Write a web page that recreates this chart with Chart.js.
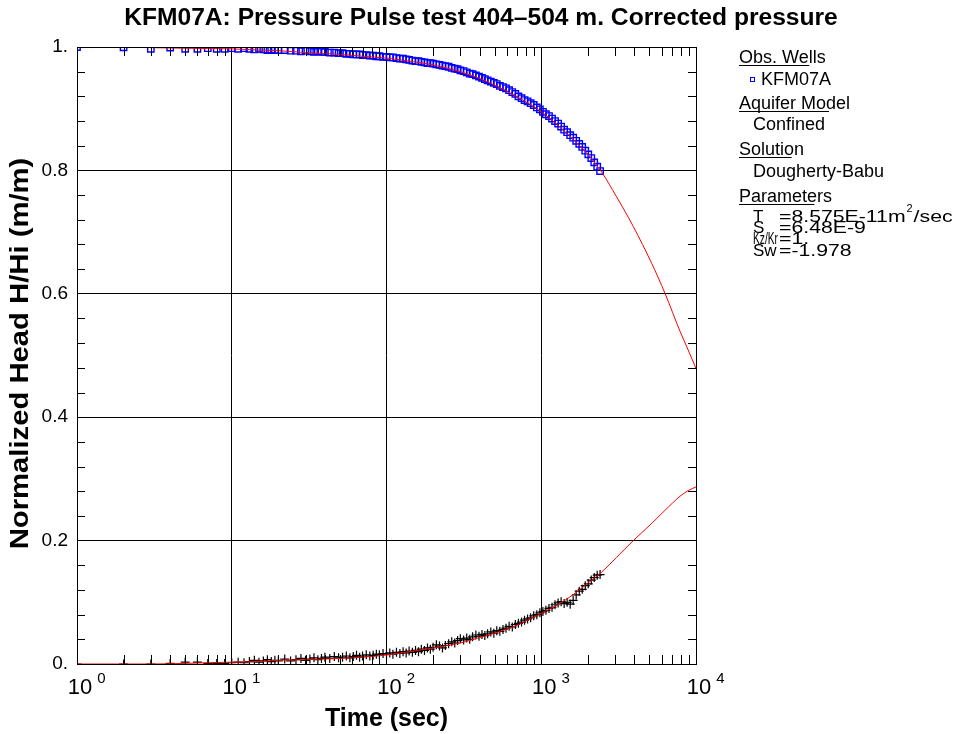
<!DOCTYPE html>
<html>
<head>
<meta charset="utf-8">
<script src="https://cdn.jsdelivr.net/npm/chart.js@4.4.1/dist/chart.umd.min.js"></script>
<style>
  body { margin: 0; background: #fff; }
  canvas { display: block; }
</style>
</head>
<body>
<canvas id="chart" width="961" height="734"></canvas>
<script>
// observed times (sec)
const obsTimes = [
  1, 2, 3, 4, 5, 6, 7, 8, 9,
  10, 11, 12, 13, 14, 15, 16, 17, 18, 19, 20,
  22, 24, 26, 28, 30, 32, 34, 36, 38, 40,
  43, 46, 49, 52, 55, 58, 61, 64, 67, 70,
  74, 78, 82, 86, 90, 95, 100,
  105, 110, 116, 122, 128, 134, 140,
  147, 154, 161, 168, 176, 184, 192, 200,
  210, 220, 230, 240, 252, 264, 276, 288, 300,
  315, 330, 345, 360, 378, 396, 414, 432, 450,
  472, 494, 516, 540, 566, 592, 620, 650, 680,
  712, 746, 780, 816, 854, 894, 936, 980,
  1025, 1072, 1122, 1174, 1228, 1285, 1344,
  1406, 1470, 1538, 1608, 1682, 1760,
  1840, 1925, 2013, 2105, 2200, 2300, 2400
];
// KFM07A, normalized head (upper branch)
const obsUpper = [
  1.000, 0.9995, 0.997, 0.999, 0.997, 0.997, 0.998, 0.997, 0.997,
  0.998, 0.997, 0.998, 0.997, 0.996, 0.997, 0.996, 0.995, 0.996, 0.995, 0.995,
  0.995, 0.994, 0.994, 0.993, 0.994, 0.993, 0.992, 0.993, 0.992, 0.992,
  0.991, 0.991, 0.990, 0.990, 0.989, 0.989, 0.988, 0.988, 0.988, 0.987,
  0.987, 0.986, 0.986, 0.985, 0.985, 0.984, 0.984,
  0.983, 0.983, 0.982, 0.981, 0.981, 0.980, 0.979,
  0.978, 0.977, 0.977, 0.976, 0.975, 0.974, 0.974, 0.973,
  0.972, 0.971, 0.970, 0.969, 0.968, 0.966, 0.965, 0.964, 0.962,
  0.961, 0.959, 0.957, 0.956, 0.954, 0.952, 0.950, 0.948, 0.946,
  0.944, 0.942, 0.940, 0.937, 0.935, 0.933, 0.930, 0.927, 0.924,
  0.920, 0.917, 0.914, 0.912, 0.909, 0.906, 0.902, 0.899,
  0.895, 0.891, 0.888, 0.884, 0.880, 0.876, 0.871,
  0.866, 0.862, 0.857, 0.853, 0.848, 0.843,
  0.838, 0.832, 0.826, 0.820, 0.813, 0.806, 0.799
];
// lower branch (crosses)
const obsLower = [
  0.000, 0.000, 0.000, 0.001, 0.003, 0.003, 0.001, 0.001, 0.001,
  0.002, 0.003, 0.002, 0.004, 0.006, 0.003, 0.005, 0.007, 0.004, 0.006, 0.005,
  0.008, 0.005, 0.007, 0.009, 0.006, 0.008, 0.010, 0.007, 0.009, 0.011,
  0.009, 0.012, 0.010, 0.011, 0.013, 0.010, 0.012, 0.014, 0.011, 0.013,
  0.015, 0.013, 0.014, 0.016, 0.015, 0.017, 0.016,
  0.018, 0.016, 0.019, 0.017, 0.020, 0.018, 0.021,
  0.019, 0.022, 0.020, 0.024, 0.022, 0.026, 0.024, 0.027,
  0.031, 0.029, 0.026, 0.030, 0.033, 0.036, 0.034, 0.038, 0.041,
  0.039, 0.042, 0.040, 0.044, 0.047, 0.045, 0.048, 0.046, 0.049,
  0.052, 0.050, 0.054, 0.053, 0.056, 0.058, 0.061, 0.060, 0.064,
  0.066, 0.068, 0.071, 0.073, 0.075, 0.078, 0.080, 0.083,
  0.085, 0.087, 0.090, 0.092, 0.096, 0.099, 0.101,
  0.098, 0.100, 0.097, 0.103, 0.112, 0.118,
  0.121, 0.127, 0.130, 0.136, 0.140, 0.144, 0.145
];

// Dougherty-Babu fitted curves
const modelTimes = [1, 2, 3, 5, 7, 10, 15, 20, 30, 50, 70, 100, 150, 200, 300, 400, 500, 700,
  1000, 1300, 1600, 2000, 2460, 3070, 3935, 5180, 6300, 7890, 8900, 10000];
const modelUpper = [1.000, 0.9995, 0.999, 0.998, 0.9975, 0.997, 0.995, 0.994, 0.991, 0.988, 0.985,
  0.982, 0.976, 0.971, 0.960, 0.949, 0.938, 0.919, 0.895, 0.872, 0.851, 0.826, 0.797, 0.757,
  0.709, 0.649, 0.601, 0.539, 0.509, 0.479];
const modelLower = [0.000, 0.000, 0.000, 0.001, 0.002, 0.003, 0.004, 0.006, 0.007, 0.009, 0.011,
  0.0146, 0.021, 0.026, 0.034, 0.043, 0.050, 0.063, 0.082, 0.097, 0.112, 0.131, 0.149, 0.173,
  0.200, 0.228, 0.249, 0.272, 0.281, 0.287];

const decadeTicks = [1, 10, 100, 1000, 10000];
const headTicks = [0, 0.2, 0.4, 0.6, 0.8, 1];

const FONT = '"Liberation Sans", Arial, sans-serif';

function pairs(xs, ys) {
  return xs.map((x, i) => ({ x: x, y: ys[i] }));
}

// frame, inward minor ticks, x tick labels, titles and the side panel
const decorations = {
  id: 'decorations',
  afterDraw(chart) {
    const { ctx, chartArea: a, scales: { x, y } } = chart;
    ctx.save();
    ctx.strokeStyle = '#000';
    ctx.lineWidth = 1;
    ctx.beginPath();
    for (let d = 1; d < 10000; d *= 10) {
      for (let m = 2; m <= 9; m++) {
        const px = Math.round(x.getPixelForValue(d * m)) + 0.5;
        ctx.moveTo(px, a.top); ctx.lineTo(px, a.top + 9);
        ctx.moveTo(px, a.bottom); ctx.lineTo(px, a.bottom - 9);
      }
    }
    for (let i = 1; i < 25; i++) {
      if (i % 5 === 0) continue;
      const py = Math.round(y.getPixelForValue(i * 0.04)) + 0.5;
      ctx.moveTo(a.left, py); ctx.lineTo(a.left + 8, py);
      ctx.moveTo(a.right, py); ctx.lineTo(a.right - 8, py);
    }
    ctx.stroke();
    ctx.strokeRect(a.left + 0.5, a.top + 0.5, a.right - a.left, a.bottom - a.top);

    ctx.fillStyle = '#000';
    // x tick labels 10^n
    decadeTicks.forEach((v, n) => {
      const px = x.getPixelForValue(v);
      ctx.font = '22px ' + FONT;
      ctx.textAlign = 'center';
      ctx.textBaseline = 'alphabetic';
      ctx.fillText('10', px + 3, 694);
      const w = ctx.measureText('10').width;
      ctx.font = '15px ' + FONT;
      ctx.textAlign = 'left';
      ctx.fillText(String(n), px + 3 + w / 2 + 5, 683);
    });

    // titles
    ctx.font = 'bold 24.6px ' + FONT;
    ctx.textAlign = 'center';
    ctx.textBaseline = 'middle';
    ctx.fillText('KFM07A: Pressure Pulse test 404\u2013504 m. Corrected pressure', 481, 18);
    ctx.font = 'bold 25px ' + FONT;
    ctx.fillText('Time (sec)', (a.left + a.right) / 2, 719);
    ctx.save();
    ctx.translate(21, (a.top + a.bottom) / 2 - 2);
    ctx.rotate(-Math.PI / 2);
    ctx.scale(1.17, 1);
    ctx.fillText('Normalized Head H/Hi (m/m)', 0, 0);
    ctx.restore();

    // side panel
    ctx.textAlign = 'left';
    ctx.textBaseline = 'alphabetic';
    ctx.font = '18px ' + FONT;
    const heads = [['Obs. Wells', 63], ['Aquifer Model', 109], ['Solution', 155], ['Parameters', 202]];
    heads.forEach(([t, by]) => {
      ctx.fillText(t, 739, by);
      const w = ctx.measureText(t).width * 0.81;
      ctx.fillRect(739, by + 2, w, 1);
    });
    ctx.fillText('KFM07A', 761, 85);
    ctx.fillText('Confined', 753, 130);
    ctx.fillText('Dougherty-Babu', 753, 177);
    ctx.strokeStyle = '#0000ff';
    ctx.strokeRect(750.5, 77.5, 4, 4);

    // parameter rows
    const params = [['T', '=8.575E-11m', 222], ['S', '=6.48E-9', 233], ['Kz/Kr', '=1.', 244], ['Sw', '=-1.978', 256]];
    ctx.font = '17px ' + FONT;
    const sx = 1.25;
    params.forEach(([k, v, by]) => {
      ctx.fillText(k, 753, by, 25);
      ctx.save();
      ctx.translate(779, by);
      ctx.scale(sx, 1);
      ctx.fillText(v, 0, 0);
      ctx.restore();
    });
    const tw = ctx.measureText('=8.575E-11m').width * sx;
    ctx.font = '11px ' + FONT;
    ctx.fillText('2', 779 + tw + 1, 212);
    ctx.font = '17px ' + FONT;
    ctx.save();
    ctx.translate(779 + tw + 8, 222);
    ctx.scale(sx, 1);
    ctx.fillText('/sec', 0, 0);
    ctx.restore();
    ctx.restore();
  }
};

new Chart(document.getElementById('chart'), {
  type: 'scatter',
  data: {
    datasets: [
      {
        label: 'fit upper',
        data: pairs(modelTimes, modelUpper),
        showLine: true,
        cubicInterpolationMode: 'monotone',
        borderColor: '#ff0000',
        borderWidth: 1,
        pointRadius: 0,
        order: 0
      },
      {
        label: 'fit lower',
        data: pairs(modelTimes, modelLower),
        showLine: true,
        cubicInterpolationMode: 'monotone',
        borderColor: '#ff0000',
        borderWidth: 1,
        pointRadius: 0,
        order: 0
      },
      {
        label: 'KFM07A',
        data: pairs(obsTimes, obsUpper),
        pointStyle: 'rect',
        pointRadius: 4.5,
        borderColor: '#0000ff',
        backgroundColor: 'rgba(0,0,0,0)',
        borderWidth: 1.4,
        order: 1
      },
      {
        label: 'KFM07A lower',
        data: pairs(obsTimes, obsLower),
        pointStyle: 'cross',
        pointRadius: 4.5,
        borderColor: '#000',
        borderWidth: 1.2,
        order: 1
      }
    ]
  },
  options: {
    responsive: false,
    animation: false,
    events: [],
    layout: { padding: { top: 47, right: 265, left: 0, bottom: 0 } },
    plugins: {
      legend: { display: false },
      tooltip: { enabled: false },
      title: { display: false }
    },
    scales: {
      x: {
        type: 'logarithmic',
        min: 1,
        max: 10000,
        afterBuildTicks: s => { s.ticks = decadeTicks.map(v => ({ value: v })); },
        afterFit: s => { s.height = 70; },
        ticks: { display: false },
        grid: { color: '#000', lineWidth: 1, drawTicks: false },
        border: { color: '#000' }
      },
      y: {
        min: 0,
        max: 1,
        afterBuildTicks: s => { s.ticks = headTicks.map(v => ({ value: v })); },
        afterFit: s => { s.width = 77; },
        ticks: {
          color: '#000',
          padding: 9,
          font: { family: FONT, size: 19 },
          callback: v => v === 0 ? '0.' : v === 1 ? '1.' : v.toFixed(1)
        },
        grid: { color: '#000', lineWidth: 1, drawTicks: false },
        border: { color: '#000' }
      }
    }
  },
  plugins: [decorations]
});
</script>
</body>
</html>
